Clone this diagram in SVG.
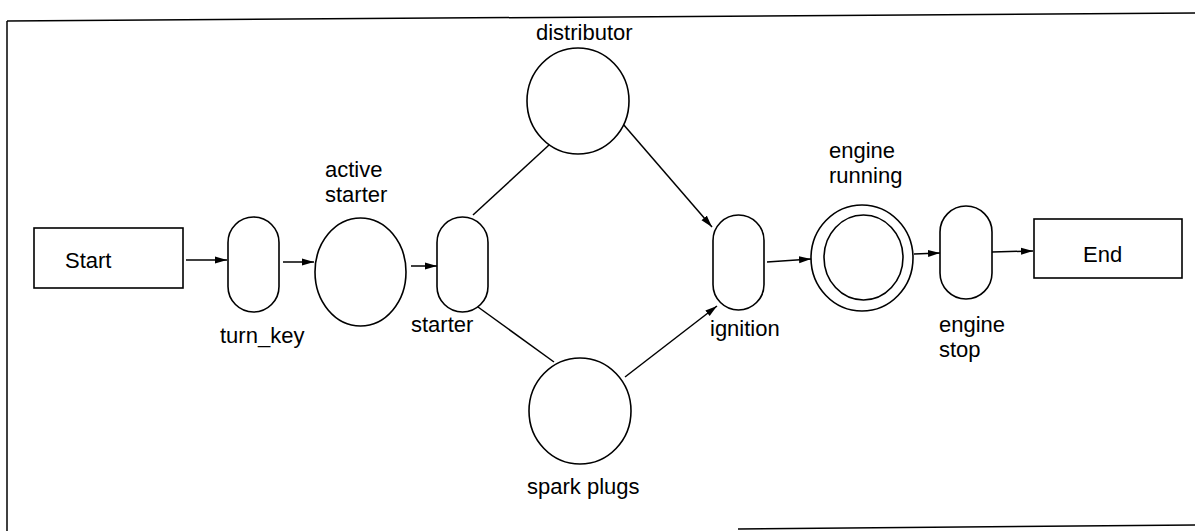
<svg xmlns="http://www.w3.org/2000/svg" width="1195" height="531" viewBox="0 0 1195 531">
<style>
.s{fill:none;stroke:#000;stroke-width:1.5}
.n{fill:#fff;stroke:#000;stroke-width:1.6}
.t{font-family:"Liberation Sans",Arial,sans-serif;font-size:22px;fill:#000}
.c{fill:none;stroke:#000;stroke-width:1.5}
</style>
<defs>
<marker id="ah" markerUnits="userSpaceOnUse" markerWidth="14" markerHeight="10" refX="12" refY="4" orient="auto">
<path d="M0,0.5 L12,4 L0,7.5 Z" fill="#000"/>
</marker>
</defs>
<g id="frame" class="s">
<line x1="7" y1="21" x2="1195" y2="13"/>
<line x1="7" y1="21" x2="7" y2="531"/>
<line x1="738" y1="529" x2="1195" y2="525"/>
</g>
<g id="connectors" class="c">
<line x1="186" y1="260" x2="227" y2="260" marker-end="url(#ah)"/>
<line x1="283" y1="262" x2="314" y2="262" marker-end="url(#ah)"/>
<line x1="411" y1="266" x2="437" y2="266" marker-end="url(#ah)"/>
<line x1="473" y1="215" x2="549" y2="145"/>
<line x1="478" y1="307" x2="554" y2="362"/>
<line x1="623" y1="124" x2="712" y2="227" marker-end="url(#ah)"/>
<line x1="625" y1="377" x2="717" y2="306" marker-end="url(#ah)"/>
<line x1="767" y1="262" x2="811" y2="259" marker-end="url(#ah)"/>
<line x1="914" y1="254" x2="940" y2="253" marker-end="url(#ah)"/>
<line x1="992" y1="252" x2="1033" y2="251" marker-end="url(#ah)"/>
</g>
<g id="start">
<rect class="n" x="34" y="228" width="149" height="60"/>
<text class="t" x="65" y="268">Start</text>
</g>
<g id="turn_key">
<rect class="n" x="228" y="217" width="51" height="95" rx="25.5" ry="25.5"/>
<text class="t" x="220" y="343">turn_key</text>
</g>
<g id="active_starter">
<ellipse class="n" cx="360.5" cy="272" rx="45.5" ry="54"/>
<text class="t" x="325" y="177">active</text>
<text class="t" x="325" y="202">starter</text>
</g>
<g id="starter">
<rect class="n" x="437" y="217" width="51" height="95" rx="25.5" ry="25.5"/>
<text class="t" x="411" y="332">starter</text>
</g>
<g id="distributor">
<ellipse class="n" cx="578" cy="101" rx="51" ry="53"/>
<text class="t" x="536" y="40">distributor</text>
</g>
<g id="spark_plugs">
<ellipse class="n" cx="580" cy="411" rx="51" ry="53"/>
<text class="t" x="527" y="494">spark plugs</text>
</g>
<g id="ignition">
<rect class="n" x="713" y="215" width="51" height="95" rx="25.5" ry="25.5"/>
<text class="t" x="710" y="336">ignition</text>
</g>
<g id="engine_running">
<ellipse class="n" cx="862" cy="258" rx="51" ry="53"/>
<ellipse class="n" cx="863.5" cy="257.5" rx="39.5" ry="42.5"/>
<text class="t" x="829" y="158">engine</text>
<text class="t" x="829" y="183">running</text>
</g>
<g id="engine_stop">
<rect class="n" x="940" y="206" width="52" height="93" rx="26" ry="26"/>
<text class="t" x="939" y="332">engine</text>
<text class="t" x="939" y="357">stop</text>
</g>
<g id="end">
<rect class="n" x="1034" y="219" width="148" height="59"/>
<text class="t" x="1083" y="262">End</text>
</g>
</svg>
